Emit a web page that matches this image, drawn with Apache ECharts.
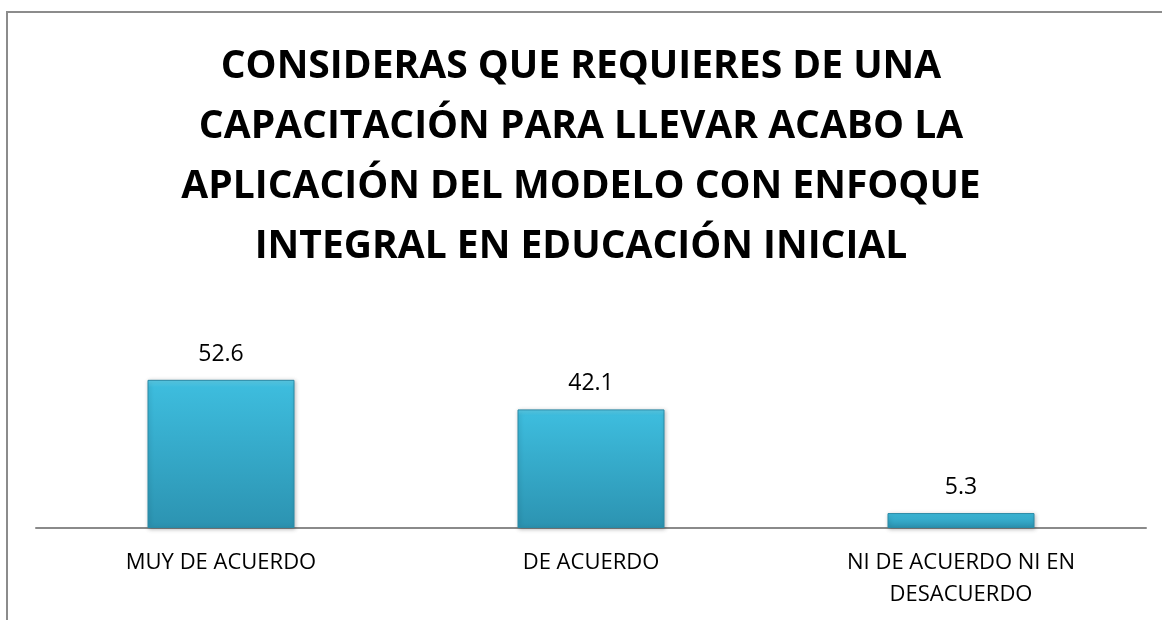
<!DOCTYPE html>
<html>
<head>
<meta charset="utf-8">
<script src="https://cdn.jsdelivr.net/npm/echarts@6/dist/echarts.min.js"></script>
<style>
  html, body { margin: 0; padding: 0; background: #fff; }
  #chart { width: 1162px; height: 620px; }
</style>
</head>
<body>
<div id="chart"></div>
<script>
const categories = ['MUY DE ACUERDO', 'DE ACUERDO', 'NI DE ACUERDO NI EN\nDESACUERDO']
const values = [52.6, 42.1, 5.3]
const titleText = 'CONSIDERAS QUE REQUIERES DE UNA\nCAPACITACIÓN PARA LLEVAR ACABO LA\nAPLICACIÓN DEL MODELO CON ENFOQUE\nINTEGRAL EN EDUCACIÓN INICIAL'

const chart = echarts.init(document.getElementById('chart'))

// barra con degradado tipo "bisel" de Excel
const barColor = new echarts.graphic.LinearGradient(0, 0, 0, 1, [
  { offset: 0, color: '#5ccde8' },
  { offset: 0.05, color: '#3dbcdd' },
  { offset: 1, color: '#2c93b1' }
])

const option = {
  animation: false,
  backgroundColor: '#fff',
  title: {
    text: titleText,
    left: 'center',
    top: 32,
    textStyle: {
      fontFamily: 'Open Sans',
      fontWeight: 'bold',
      fontSize: 39,
      lineHeight: 60,
      color: '#000'
    }
  },
  graphic: [
    {
      type: 'rect',
      shape: { x: 7, y: 12, width: 1170, height: 630 },
      style: { fill: 'none', stroke: '#8c8c8c', lineWidth: 2 },
      silent: true
    }
  ],
  grid: {
    left: 36,
    right: 16,
    top: 359,
    bottom: 92
  },
  xAxis: {
    type: 'category',
    data: categories,
    axisLine: { lineStyle: { color: '#8a8a8a', width: 2 } },
    axisTick: { show: false },
    axisLabel: {
      color: '#000',
      fontFamily: 'Open Sans',
      fontSize: 22,
      lineHeight: 32,
      margin: 19,
      interval: 0
    }
  },
  yAxis: {
    type: 'value',
    min: 0,
    max: 60,
    show: false
  },
  series: [
    {
      type: 'bar',
      data: values,
      barWidth: 147,
      itemStyle: {
        color: barColor,
        borderColor: '#2a8aa6',
        borderWidth: 1,
        shadowColor: 'rgba(0,0,0,0.25)',
        shadowBlur: 4,
        shadowOffsetX: 1,
        shadowOffsetY: 1
      },
      label: {
        show: true,
        position: 'top',
        distance: 14,
        color: '#000',
        fontFamily: 'Open Sans',
        fontSize: 23
      }
    }
  ]
}

chart.setOption(option)
</script>
</body>
</html>
